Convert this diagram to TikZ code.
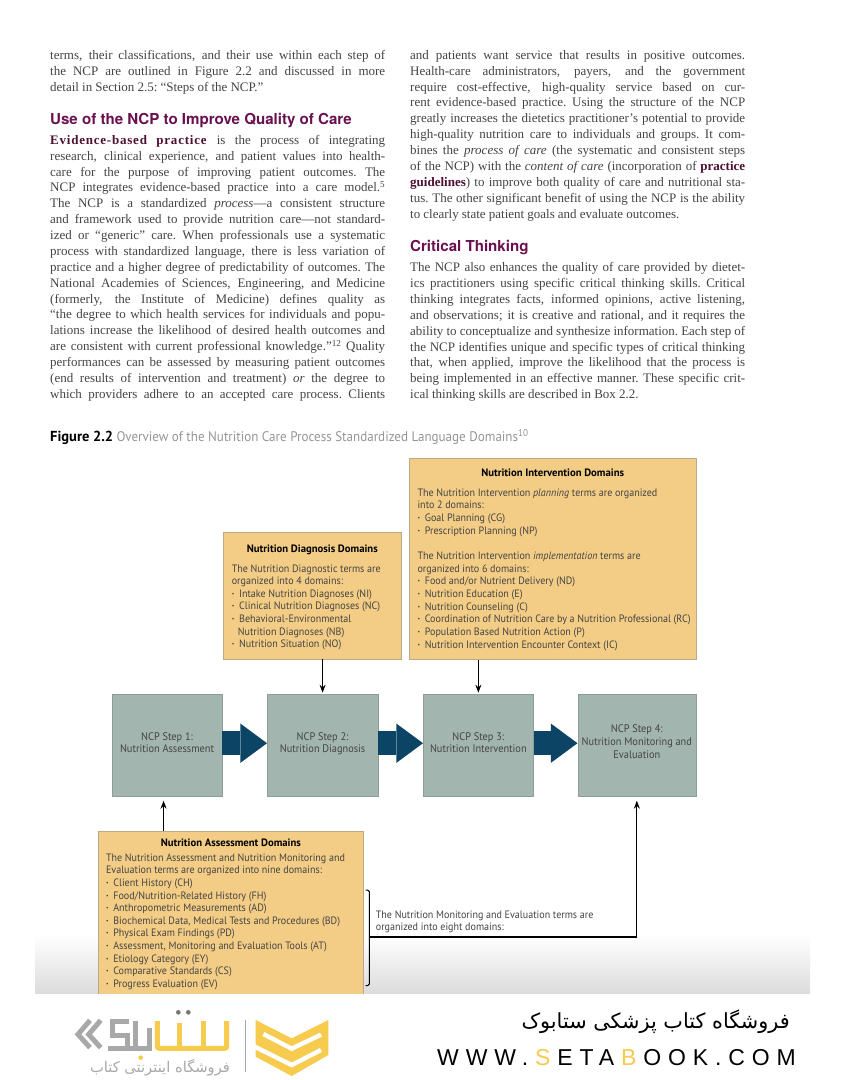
\documentclass[tikz,border=0pt]{standalone}
\usepackage{fontspec}
\usetikzlibrary{arrows.meta,calc}
\setmainfont{Liberation Serif}
\newfontfamily\dsans[FakeStretch=0.94]{PT Sans}
\newfontfamily\dsansb{PT Sans}
\newfontfamily\hsans{TeX Gyre Heros}
\newfontfamily\fa[Script=Arabic]{DejaVu Sans}
\newfontfamily\urlf[LetterSpace=30]{Liberation Sans}
\TeXXeTstate=1
\definecolor{bodyc}{HTML}{444444}
\definecolor{headc}{HTML}{6A1050}
\definecolor{termc}{HTML}{4E1030}
\definecolor{capc}{HTML}{969696}
\definecolor{boxfill}{HTML}{F3CD85}
\definecolor{boxline}{HTML}{B9AA88}
\definecolor{stepfill}{HTML}{A2B5AE}
\definecolor{stepline}{HTML}{8C9C97}
\definecolor{navy}{HTML}{0B4464}
\definecolor{setay}{HTML}{F6CB4E}
\definecolor{setag}{HTML}{A8A8A8}
\newcommand{\bodyset}{\fontsize{13}{15.87}\selectfont\baselineskip=15.87pt\lineskiplimit=-100pt\spaceskip=.24em plus 1fil minus .12em\xspaceskip=\spaceskip}
\newcommand{\jl}[1]{\hbox to 335pt{\vrule height 10pt width 0pt\relax #1}}
\newcommand{\el}[1]{\hbox{\vrule height 10pt width 0pt\relax #1}}
\newcommand{\term}[1]{\textcolor{termc}{\textbf{#1}}}
\newlength{\bxpad}
\newcommand{\bxset}{\dsans\fontsize{10.7}{12.65}\selectfont\baselineskip=12.65pt\lineskiplimit=-100pt}
\newcommand{\bl}[1]{\hbox{\vrule height 9pt width 0pt\relax\hskip\bxpad #1}}
\newcommand{\bu}[1]{\bl{\makebox[7.3pt][l]{\textbf{·}}#1}}
\newcommand{\bt}[2]{\hbox to #1{\vrule height 9pt width 0pt\relax\hfil\textcolor{black}{\dsansb\bfseries #2}\hfil}}
\newcommand{\lift}[1]{\rule[-#1]{0pt}{#1}}
\tikzset{
  domainbox/.style={draw=boxline,fill=boxfill,line width=.7pt,inner sep=0pt,anchor=north west,text=bodyc},
  stepbox/.style={draw=stepline,fill=stepfill,line width=.7pt,inner sep=0pt,anchor=north west,align=center,
    font=\dsans\fontsize{11}{12.7}\selectfont,text=bodyc},
  flow/.style={navy,line width=24pt,-{Triangle[length=26.7pt,width=39.4pt,line width=0pt]}},
  thin link/.style={black,line width=1.1pt,-{Stealth[length=8pt,width=6pt]}},
  headline/.style={anchor=base west,inner sep=0pt,text=headc,font=\hsans\bfseries\fontsize{15.1}{18}\selectfont},
  textblock/.style={anchor=base west,inner sep=0pt,text=bodyc},
}
\begin{document}
\begin{tikzpicture}[x=1pt,y=-1pt]
\useasboundingbox (0,0) rectangle (844,1080);
\fill[white] (0,0) rectangle (844,1080);

% ---------- columns of text
\node[textblock] (p1) at (50,59.3) {\vtop{\hsize=335pt\bodyset
\jl{terms, their classifications, and their use within each step of}
\jl{the NCP are outlined in Figure 2.2 and discussed in more}
\el{detail in Section 2.5: “Steps of the NCP.”}}};
\node[headline] (h1) at (50,124.3) {Use of the NCP to Improve Quality of Care};
\node[textblock] (p2) at (50,144.3) {\vtop{\hsize=335pt\bodyset
\jl{\term{\addfontfeatures{LetterSpace=6}Evidence-based practice} is the process of integrating}
\jl{research, clinical experience, and patient values into health-}
\jl{care for the purpose of improving patient outcomes. The}
\jl{NCP integrates evidence-based practice into a care model.\textsuperscript{5}}
\jl{The NCP is a standardized \textit{process}—a consistent structure}
\jl{and framework used to provide nutrition care—not standard-}
\jl{ized or “generic” care. When professionals use a systematic}
\jl{process with standardized language, there is less variation of}
\jl{practice and a higher degree of predictability of outcomes. The}
\jl{National Academies of Sciences, Engineering, and Medicine}
\jl{(formerly, the Institute of Medicine) defines quality as}
\jl{“the degree to which health services for individuals and popu-}
\jl{lations increase the likelihood of desired health outcomes and}
\jl{are consistent with current professional knowledge.”\textsuperscript{12} Quality}
\jl{performances can be assessed by measuring patient outcomes}
\jl{(end results of intervention and treatment) \textit{or} the degree to}
\jl{which providers adhere to an accepted care process. Clients}}};
\node[textblock] (p3) at (410,59.3) {\vtop{\hsize=335pt\bodyset
\jl{and patients want service that results in positive outcomes.}
\jl{Health-care administrators, payers, and the government}
\jl{require cost-effective, high-quality service based on cur-}
\jl{rent evidence-based practice. Using the structure of the NCP}
\jl{greatly increases the dietetics practitioner’s potential to provide}
\jl{high-quality nutrition care to individuals and groups. It com-}
\jl{bines the \textit{process of care} (the systematic and consistent steps}
\jl{of the NCP) with the \textit{content of care} (incorporation of \term{practice}}
\jl{\term{guidelines}) to improve both quality of care and nutritional sta-}
\jl{tus. The other significant benefit of using the NCP is the ability}
\el{to clearly state patient goals and evaluate outcomes.}}};
\node[headline] (h2) at (410,251.7) {Critical Thinking};
\node[textblock] (p4) at (410,271.7) {\vtop{\hsize=335pt\bodyset
\jl{The NCP also enhances the quality of care provided by dietet-}
\jl{ics practitioners using specific critical thinking skills. Critical}
\jl{thinking integrates facts, informed opinions, active listening,}
\jl{and observations; it is creative and rational, and it requires the}
\jl{ability to conceptualize and synthesize information. Each step of}
\jl{the NCP identifies unique and specific types of critical thinking}
\jl{that, when applied, improve the likelihood that the process is}
\jl{being implemented in an effective manner. These specific crit-}
\el{ical thinking skills are described in Box 2.2.}}};

% ---------- caption
\node[textblock,font=\dsans\fontsize{13.9}{16}\selectfont,text=capc] (cap) at (50,441.5)
 {\textcolor{black}{\dsansb\fontsize{14.5}{16}\selectfont\bfseries Figure 2.2} Overview of the Nutrition Care Process Standardized Language Domains\textsuperscript{10}};

% ---------- grey band behind the foot of the figure
\shade[top color=white,bottom color=black!14] (35,935) rectangle (810,994);

% ---------- domain boxes
\node[domainbox] (diag) at (223.3,532) {\vbox to 126.7pt{\hsize=177.4pt\bxset\bxpad=8.2pt
\vskip 10.7pt
\bt{177.4pt}{Nutrition Diagnosis Domains}
\vskip 7.3pt
\bl{The Nutrition Diagnostic terms are}
\bl{organized into 4 domains:}
\bu{Intake Nutrition Diagnoses (NI)}
\bu{Clinical Nutrition Diagnoses (NC)}
\bu{Behavioral-Environmental}
\bl{\hskip 6pt Nutrition Diagnoses (NB)}
\bu{Nutrition Situation (NO)}
\vss}};
\node[domainbox] (interv) at (409,458.3) {\vbox to 200.7pt{\hsize=286.7pt\bxset\bxpad=8.2pt
\vskip 8.7pt
\bt{286.7pt}{Nutrition Intervention Domains}
\vskip 7.3pt
\bl{The Nutrition Intervention \textit{planning} terms are organized}
\bl{into 2 domains:}
\bu{Goal Planning (CG)}
\bu{Prescription Planning (NP)}
\bl{}
\bl{The Nutrition Intervention \textit{implementation} terms are}
\bl{organized into 6 domains:}
\bu{Food and/or Nutrient Delivery (ND)}
\bu{Nutrition Education (E)}
\bu{Nutrition Counseling (C)}
\bu{Coordination of Nutrition Care by a Nutrition Professional (RC)}
\bu{Population Based Nutrition Action (P)}
\bu{Nutrition Intervention Encounter Context (IC)}
\vss}};
\node[domainbox,path picture={\shade[top color=boxfill,bottom color=boxfill!85!black] (90,935) rectangle (370,996);}] (assess) at (98,830.7) {\vbox to 166pt{\hsize=265pt\bxset\bxpad=7.7pt
\vskip 6pt
\bt{265pt}{Nutrition Assessment Domains}
\vskip 2.35pt
\bl{The Nutrition Assessment and Nutrition Monitoring and}
\bl{Evaluation terms are organized into nine domains:}
\bu{Client History (CH)}
\bu{Food/Nutrition-Related History (FH)}
\bu{Anthropometric Measurements (AD)}
\bu{Biochemical Data, Medical Tests and Procedures (BD)}
\bu{Physical Exam Findings (PD)}
\bu{Assessment, Monitoring and Evaluation Tools (AT)}
\bu{Etiology Category (EY)}
\bu{Comparative Standards (CS)}
\bu{Progress Evaluation (EV)}
\vss}};

% ---------- steps
\node[stepbox,minimum width=110pt,minimum height=102.3pt] (s1) at (111.7,693.7) {NCP Step 1:\\Nutrition Assessment\lift{5pt}};
\node[stepbox,minimum width=110.5pt,minimum height=102.3pt] (s2) at (267,693.7) {NCP Step 2:\\Nutrition Diagnosis\lift{5pt}};
\node[stepbox,minimum width=110pt,minimum height=102.3pt] (s3) at (423,693.7) {NCP Step 3:\\Nutrition Intervention\lift{5pt}};
\node[stepbox,minimum width=118pt,minimum height=102.3pt] (s4) at (577.5,693.7) {NCP Step 4:\\Nutrition Monitoring and\\Evaluation\lift{7pt}};

% ---------- block arrows
\draw[flow] ([yshift=2pt]s1.east) -- ([yshift=2pt]s2.west);
\draw[flow] ([yshift=2pt]s2.east) -- ([yshift=2pt]s3.west);
\draw[flow] ([yshift=2pt]s3.east) -- ([yshift=2pt]s4.west);

% ---------- thin arrows
\draw[thin link,shorten >=1pt] (diag.south -| s2.north) -- (s2.north);
\draw[thin link,shorten >=1pt] (interv.south -| s3.north) -- (s3.north);
\coordinate (upfoot) at ([xshift=-3.5pt]s1.south);
\draw[thin link,shorten >=4pt] (assess.north -| upfoot) -- (upfoot);

% ---------- bracket and monitoring link
\coordinate (brtop) at (365.7,890);
\coordinate (brbot) at (365.7,985.7);
\coordinate (brmid) at (369.3,937);
\draw[black,line width=1pt,rounded corners=1.6pt] (brtop) -- (brtop -| brmid) -- (brbot -| brmid) -- (brbot);
\draw[thin link,shorten >=4pt] (brmid) -| (s4.south);
\node[textblock] (mon) at (375.7,918) {\vtop{\hsize=240pt\bxset\bxpad=0pt
\bl{The Nutrition Monitoring and Evaluation terms are}
\bl{organized into eight domains:}}};

% ---------- footer
\fill[white] (0,994) rectangle (844,1080);

\begin{scope}[shift={(70,1005)},x=.3333pt,y=-.3333pt]
 \draw[setag,line width=5pt,miter limit=10] (60,46) -- (24,88) -- (60,128);
 \draw[setag,line width=5pt,miter limit=10] (92,46) -- (56,88) -- (92,128);
 \draw[setag,line width=5pt] (178,50) -- (128,50) -- (128,92) -- (172,92) -- (172,130);
 \draw[setag,line width=5pt] (115,130) -- (240,130) -- (240,68);
 \draw[setag,line width=5pt] (198,48) -- (198,130);
 \draw[setay,line width=5pt,rounded corners=2pt] (262,48) -- (262,130) -- (470,130) -- (470,48);
 \draw[setay,line width=5pt] (330,55) -- (330,130);
 \draw[setay,line width=5pt] (400,48) -- (400,130);
 \fill[setag!70!black] (325,22) circle[radius=7] (355,22) circle[radius=7];
 \fill[setay] (212,158) circle[radius=7];
 \draw[setag,line width=.9pt] (525,45) -- (525,200);
 \node[inner sep=0pt,text=setag,font=\fa\fontsize{14.7}{17}\selectfont] (shoptag) at (270,188) {\beginR فروشگاه اینترنتی کتاب\endR};
\end{scope}

\begin{scope}[shift={(245,1010)},x=.3333pt,y=-.3333pt]
 \fill[setay] (32,30) -- (140,85) -- (250,30) -- (250,135) -- (140,198) -- (32,140) -- cycle;
 \draw[white,line width=4.4pt,miter limit=10] (55,72) -- (140,116) -- (228,74);
 \draw[white,line width=4.4pt,miter limit=10] (25,108) -- (140,165) -- (228,120);
\end{scope}

\node[anchor=base east,inner sep=0pt,font=\fa\fontsize{20.8}{24}\selectfont,text=black] (shop) at (790,1028) {\beginR فروشگاه کتاب پزشکی ستابوک\endR};
\node[anchor=base west,inner sep=0pt,font=\urlf\fontsize{23}{26}\selectfont,text=black] (url) at (437,1065) {WWW.\hskip 6.9pt\textcolor{setay}{S}\hskip 6.9pt ETA\hskip 6.9pt\textcolor{setay}{B}\hskip 6.9pt OOK.COM};
\end{tikzpicture}
\end{document}
